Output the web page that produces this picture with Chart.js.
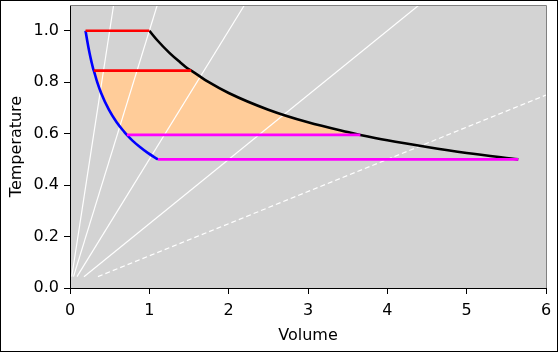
<!DOCTYPE html>
<html>
<head>
<meta charset="utf-8">
<script src="https://cdn.jsdelivr.net/npm/chart.js@4"></script>
<style>
  html, body { margin: 0; padding: 0; background: #fff; }
  #wrap { width: 558px; height: 352px; position: relative; }
</style>
</head>
<body>
<div id="wrap"><canvas id="c" width="558" height="352"></canvas></div>
<script>
// curve readings (volume, temperature)
const curveT  = [1.0, 0.963, 0.915, 0.88, 0.85, 0.845, 0.80, 0.758, 0.693, 0.644, 0.606, 0.595, 0.574, 0.548, 0.525, 0.5];
const blueV   = [0.196, 0.216, 0.245, 0.270, 0.294, 0.300, 0.343, 0.392, 0.49, 0.588, 0.686, 0.717, 0.784, 0.882, 0.98, 1.109];
const blackV  = [1.0, 1.1, 1.25, 1.378, 1.5, 1.528, 1.75, 2.0, 2.5, 3.0, 3.5, 3.66, 4.0, 4.5, 5.0, 5.65];

// horizontal segments
const redT = [1.0, 0.845];
const redV0 = [0.196, 0.300];
const redV1 = [1.0, 1.528];
const magT = [0.595, 0.5];
const magV0 = [0.717, 1.109];
const magV1 = [3.66, 5.65];

// shaded band limits
const bandTop = 0.845;
const bandBottom = 0.595;

// white guide lines
const rayV0 = [0.022, 0.044, 0.088, 0.176];
const rayV1 = [0.55, 1.1, 2.2, 4.4];
const rayT0 = 0.044;
const rayT1 = 1.1;
const dashV = [0.352, 6.0];
const dashT = [0.044, 0.75];

const xTicks = [0, 1, 2, 3, 4, 5, 6];
const yTicks = [0.0, 0.2, 0.4, 0.6, 0.8, 1.0];

const pts = (vs, ts) => vs.map((v, i) => ({x: v, y: ts[i]}));

const datasets = [];
magT.forEach((t, i) => datasets.push({
  data: [{x: magV0[i], y: t}, {x: magV1[i], y: t}],
  borderColor: '#ff00ff', borderWidth: 2.6, pointRadius: 0, showLine: true
}));
redT.forEach((t, i) => datasets.push({
  data: [{x: redV0[i], y: t}, {x: redV1[i], y: t}],
  borderColor: '#ff0000', borderWidth: 2.6, pointRadius: 0, showLine: true
}));
datasets.push({
  data: pts(blueV, curveT), borderColor: '#0000ff', borderWidth: 2.6,
  pointRadius: 0, showLine: true, cubicInterpolationMode: 'monotone'
});
datasets.push({
  data: pts(blackV, curveT), borderColor: '#000000', borderWidth: 2.6,
  pointRadius: 0, showLine: true, cubicInterpolationMode: 'monotone'
});
rayV0.forEach((v, i) => datasets.push({
  data: [{x: v, y: rayT0}, {x: rayV1[i], y: rayT1}],
  borderColor: '#ffffff', borderWidth: 1.2, pointRadius: 0, showLine: true
}));
datasets.push({
  data: pts(dashV, dashT), borderColor: '#ffffff', borderWidth: 1.2,
  borderDash: [5, 3], pointRadius: 0, showLine: true
});

// band polygon: down the blue curve, back up the black curve
const band = [];
curveT.forEach((t, i) => { if (t <= bandTop && t >= bandBottom) band.push({x: blueV[i], y: t}); });
for (let i = curveT.length - 1; i >= 0; i--) {
  if (curveT[i] <= bandTop && curveT[i] >= bandBottom) band.push({x: blackV[i], y: curveT[i]});
}
band.push(band[0]);
datasets.push({
  data: band, borderColor: 'rgba(0,0,0,0)', borderWidth: 0, pointRadius: 0,
  showLine: true, fill: 'shape', backgroundColor: '#ffcc99'
});

const frame = {
  id: 'frame',
  beforeDraw(chart) {
    const {ctx, chartArea: a} = chart;
    ctx.save();
    ctx.fillStyle = '#d3d3d3';
    ctx.fillRect(a.left, a.top, a.right - a.left, a.bottom - a.top);
    ctx.restore();
  },
  afterDraw(chart) {
    const {ctx, chartArea: a} = chart;
    ctx.save();
    ctx.strokeStyle = '#808080';
    ctx.lineWidth = 1;
    ctx.beginPath();
    ctx.moveTo(a.left, a.top + 0.5);
    ctx.lineTo(a.right + 0.5, a.top + 0.5);
    ctx.lineTo(a.right + 0.5, a.bottom);
    ctx.stroke();
    ctx.strokeStyle = '#000';
    ctx.strokeRect(0.5, 0.5, chart.width - 1, chart.height - 1);
    ctx.restore();
  }
};

Chart.defaults.font.family = 'DejaVu Sans';
Chart.defaults.font.size = 16;
Chart.defaults.color = '#000';

const noPad = s => { s.paddingTop = 0; s.paddingBottom = 0; s.paddingLeft = 0; s.paddingRight = 0; };

new Chart(document.getElementById('c'), {
  type: 'scatter',
  data: {datasets},
  options: {
    responsive: false,
    animation: false,
    events: [],
    layout: {padding: {left: 0, top: 5, right: 12, bottom: 0}},
    plugins: {legend: {display: false}, tooltip: {enabled: false}},
    scales: {
      x: {
        type: 'linear', min: 0, max: 6,
        afterFit: s => { s.height = 64; noPad(s); },
        afterBuildTicks: s => { s.ticks = xTicks.map(v => ({value: v})); },
        ticks: {padding: 7, callback: v => String(v), maxRotation: 0},
        grid: {drawOnChartArea: false, tickLength: 6, tickColor: '#000', color: '#000'},
        border: {color: '#000', width: 1},
        title: {display: true, text: 'Volume', padding: {top: 0, bottom: 7}}
      },
      y: {
        type: 'linear', min: 0, max: 1.1,
        afterFit: s => { s.width = 70; noPad(s); },
        afterBuildTicks: s => { s.ticks = yTicks.map(v => ({value: v})); },
        ticks: {padding: 5, callback: v => v.toFixed(1)},
        grid: {drawOnChartArea: false, tickLength: 6, tickColor: '#000', color: '#000'},
        border: {color: '#000', width: 1},
        title: {display: true, text: 'Temperature', padding: {top: 7, bottom: 0}}
      }
    }
  },
  plugins: [frame]
});
</script>
</body>
</html>
